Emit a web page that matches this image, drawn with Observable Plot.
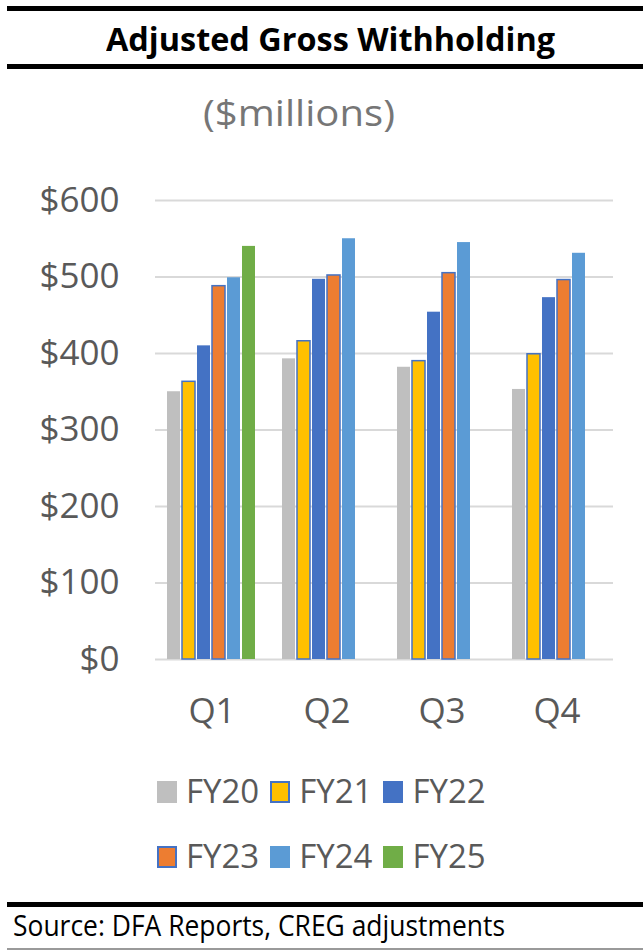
<!DOCTYPE html>
<html><head><meta charset="utf-8">
<script src="https://cdn.jsdelivr.net/npm/d3@7"></script>
<script src="https://cdn.jsdelivr.net/npm/@observablehq/plot@0.6"></script>
<style>
body{margin:0;background:#fff;}
#page{position:relative;width:643px;height:951px;overflow:hidden;font-family:"Open Sans",sans-serif;background:#fff;}
.rule{position:absolute;left:7px;right:0;background:#000;}
.fit{position:absolute;white-space:nowrap;transform-origin:0 0;}
.layer{position:absolute;left:0;top:150px;}
.lrow{position:absolute;white-space:nowrap;font-size:33px;line-height:33px;color:#595959;}
.sw{display:inline-block;width:20px;height:22px;vertical-align:baseline;box-sizing:border-box;}
.lab{display:inline-block;margin-left:9px;margin-right:11px;}
</style></head><body><div id="page">
<div class="rule" style="top:6px;height:5px"></div>
<div id="title" class="fit" style="font-weight:700;font-size:32px;color:#000;">Adjusted Gross Withholding</div>
<div class="rule" style="top:64px;height:5px"></div>
<div id="sub" class="fit" style="font-size:36px;color:#767676;">($millions)</div>
<div id="grid" class="layer"></div>
<div id="chart" class="layer"></div>
<div id="legend"></div>
<div class="rule" style="top:902px;height:5px"></div>
<div id="source" class="fit" style="font-size:30px;color:#000">Source: DFA Reports, CREG adjustments</div>
<div style="position:absolute;left:7px;right:0;top:948px;height:2px;background:#9a9a9a"></div>
</div>
<script>
const quarters = ["Q1", "Q2", "Q3", "Q4"];
const series = ["FY20", "FY21", "FY22", "FY23", "FY24", "FY25"];
const fy20 = [350, 393, 382, 353];
const fy21 = [363, 416, 390, 399];
const fy22 = [410, 497, 454, 473];
const fy23 = [488, 502, 505, 496];
const fy24 = [499, 550, 545, 531];
const fy25 = [540, null, null, null];
const colors = ["#BFBFBF", "#FFC000", "#4472C4", "#ED7D31", "#5B9BD5", "#70AD47"];
const outlined = ["FY21", "FY23"];
const yTicks = [0, 100, 200, 300, 400, 500, 600];

const valuesBySeries = [fy20, fy21, fy22, fy23, fy24, fy25];
const rows = [];
series.forEach((s, i) => quarters.forEach((q, j) => {
  const v = valuesBySeries[i][j];
  if (v != null) rows.push({quarter: q, series: s, value: v});
}));

const frame = {width: 643, height: 600, marginTop: 50, marginBottom: 91, marginLeft: 155, marginRight: 30};
const font = {fontFamily: "'Open Sans', sans-serif", background: "transparent", overflow: "visible"};

// background: gridlines and y axis across the whole plot area
const grid = Plot.plot({
  ...frame,
  style: font,
  y: {domain: [0, 600], label: null},
  marks: [
    Plot.ruleY(yTicks, {stroke: "#d9d9d9", strokeWidth: 2}),
    Plot.axisY({ticks: yTicks, tickSize: 0, tickPadding: 36, tickFormat: d => "$" + d, fontSize: 35, fill: "#595959", label: null})
  ]
});
document.getElementById("grid").appendChild(grid);

// foreground: clustered bars
const chart = Plot.plot({
  ...frame,
  style: font,
  fx: {domain: quarters, paddingInner: 0.223, paddingOuter: 0.1, label: null},
  x: {domain: series, paddingInner: 0.13, paddingOuter: 0, axis: null},
  y: {domain: [0, 600], label: null, axis: null},
  color: {domain: series, range: colors},
  marks: [
    Plot.barY(rows, {fx: "quarter", x: "series", y: "value", fill: "series"}),
    Plot.barY(rows.filter(d => outlined.includes(d.series)), {fx: "quarter", x: "series", y: "value", fill: "none", stroke: "#4472C4", strokeWidth: 1.5}),
    Plot.axisFx({anchor: "bottom", tickSize: 0, tickPadding: 39, fontSize: 35, fill: "#595959", label: null})
  ]
});
document.getElementById("chart").appendChild(chart);

// legend
const legend = document.getElementById("legend");
const rowTops = [773.7, 838.7];
[[0, 1, 2], [3, 4, 5]].forEach((idx, r) => {
  const row = document.createElement("div");
  row.className = "lrow";
  row.style.left = "157px";
  row.style.top = rowTops[r] + "px";
  idx.forEach(i => {
    const sw = document.createElement("span");
    sw.className = "sw";
    sw.style.background = colors[i];
    if (outlined.includes(series[i])) sw.style.border = "2px solid #4472C4";
    const lab = document.createElement("span");
    lab.className = "lab";
    lab.textContent = series[i];
    row.appendChild(sw); row.appendChild(lab);
  });
  legend.appendChild(row);
});

function fit(id, left, right, baseline) {
  const el = document.getElementById(id);
  const fs = parseFloat(getComputedStyle(el).fontSize);
  el.style.lineHeight = fs + "px";
  el.style.top = (baseline - 0.888 * fs) + "px";
  el.style.left = left + "px";
  const w = el.getBoundingClientRect().width;
  el.style.transform = `scaleX(${(right - left) / w})`;
}
fit("title", 106, 555, 51);
fit("sub", 203, 395, 127);
fit("source", 13, 505, 937);
</script>
</body></html>
